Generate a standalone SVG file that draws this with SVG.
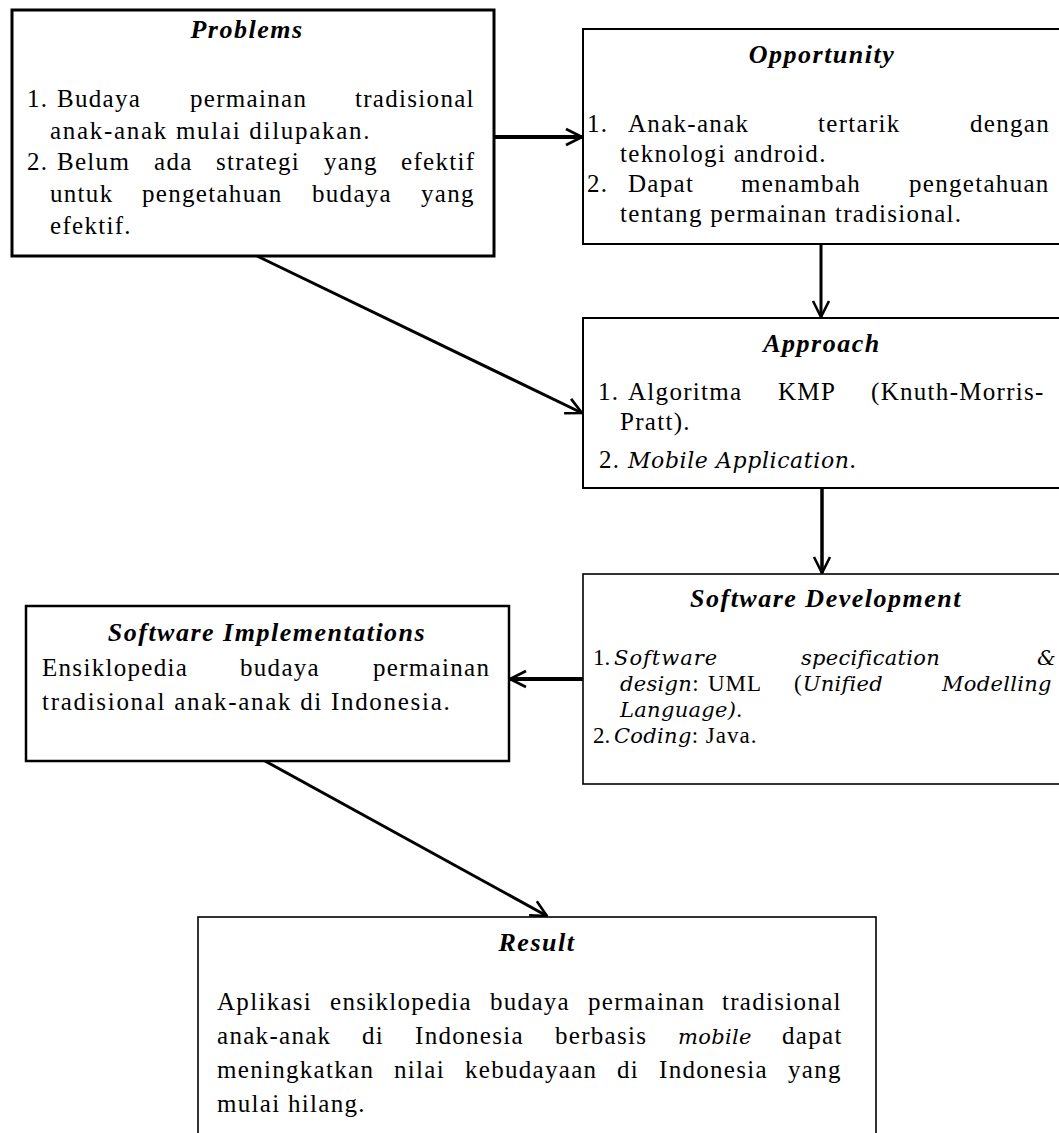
<svg xmlns="http://www.w3.org/2000/svg" width="1059" height="1133" viewBox="0 0 1059 1133">
<defs>
<style>
.box{fill:#fff;stroke:#000}
.t{font-family:"Liberation Serif","Times New Roman",serif;font-size:25px;letter-spacing:1.3px;fill:#000}
.sd{font-size:23px;letter-spacing:1px}
.h{font-family:"Liberation Serif","Times New Roman",serif;font-weight:bold;font-style:italic;font-size:26px;letter-spacing:1.5px;text-anchor:middle;fill:#000}
.i{font-family:"DejaVu Serif",serif;font-style:italic;font-size:21px;letter-spacing:0.3px}
.c{fill:none;stroke:#000}
</style>
<marker id="arr" viewBox="0 0 20 20" refX="19" refY="10" markerWidth="20" markerHeight="20" orient="auto" markerUnits="userSpaceOnUse">
<path d="M3,2 L19,10 L3,18" fill="none" stroke="#000" stroke-width="2.6"/>
</marker>
</defs>
<rect width="1059" height="1133" fill="#fff"/>

<g id="connectors">
<line class="c" x1="494" y1="137" x2="582" y2="137" stroke-width="4" marker-end="url(#arr)"/>
<line class="c" x1="821" y1="244" x2="821" y2="317" stroke-width="3" marker-end="url(#arr)"/>
<line class="c" x1="257" y1="256" x2="582" y2="413" stroke-width="3" marker-end="url(#arr)"/>
<line class="c" x1="822" y1="488" x2="822" y2="573" stroke-width="3.5" marker-end="url(#arr)"/>
<line class="c" x1="583" y1="679" x2="510" y2="679" stroke-width="4" marker-end="url(#arr)"/>
<line class="c" x1="265" y1="761" x2="547" y2="916" stroke-width="3" marker-end="url(#arr)"/>
</g>

<g id="problems">
<rect class="box" x="12" y="10" width="482" height="246" stroke-width="3"/>
<text class="h" x="247" y="38">Problems</text>
<text class="t" y="107"><tspan x="27">1.</tspan><tspan x="57">Budaya</tspan><tspan x="190">permainan</tspan><tspan x="355">tradisional</tspan></text>
<text class="t" x="50" y="139" style="letter-spacing:1.7px">anak-anak mulai dilupakan.</text>
<text class="t" y="170"><tspan x="27">2.</tspan><tspan x="57">Belum</tspan><tspan x="154">ada</tspan><tspan x="216">strategi</tspan><tspan x="324">yang</tspan><tspan x="401">efektif</tspan></text>
<text class="t" y="202"><tspan x="50">untuk</tspan><tspan x="142">pengetahuan</tspan><tspan x="312">budaya</tspan><tspan x="421">yang</tspan></text>
<text class="t" x="50" y="234">efektif.</text>
</g>

<g id="opportunity">
<rect class="box" x="583" y="29" width="481" height="215" stroke-width="2"/>
<text class="h" x="822" y="63">Opportunity</text>
<text class="t" y="132"><tspan x="587">1.</tspan><tspan x="628">Anak-anak</tspan><tspan x="818">tertarik</tspan><tspan x="970">dengan</tspan></text>
<text class="t" x="620" y="162">teknologi android.</text>
<text class="t" y="192"><tspan x="587">2.</tspan><tspan x="628">Dapat</tspan><tspan x="741">menambah</tspan><tspan x="909">pengetahuan</tspan></text>
<text class="t" x="620" y="222">tentang permainan tradisional.</text>
</g>

<g id="approach">
<rect class="box" x="583" y="318" width="481" height="170" stroke-width="2"/>
<text class="h" x="822" y="352">Approach</text>
<text class="t" y="400"><tspan x="598">1.</tspan><tspan x="628">Algoritma</tspan><tspan x="778">KMP</tspan><tspan x="871">(Knuth-Morris-</tspan></text>
<text class="t" x="620" y="430">Pratt).</text>
<text class="t" y="468"><tspan x="599">2. </tspan><tspan class="i" style="font-size:22px;letter-spacing:0.6px">Mobile Application</tspan><tspan>.</tspan></text>
</g>

<g id="software-development">
<rect class="box" x="583" y="574" width="481" height="210" stroke-width="1.6"/>
<text class="h" x="826" y="607">Software Development</text>
<text class="t sd" y="665"><tspan x="593" style="letter-spacing:0">1.</tspan><tspan x="614" class="i" style="letter-spacing:1px">Software</tspan><tspan x="801" class="i">specification</tspan><tspan x="1037" class="i">&amp;</tspan></text>
<text class="t sd" y="691"><tspan x="620" class="i">design</tspan><tspan>:</tspan><tspan x="708">UML</tspan><tspan x="794">(</tspan><tspan class="i">Unified</tspan><tspan x="942" class="i">Modelling</tspan></text>
<text class="t sd" y="717"><tspan x="620" class="i">Language)</tspan><tspan>.</tspan></text>
<text class="t sd" y="743"><tspan x="593" style="letter-spacing:0">2.</tspan><tspan x="614" class="i">Coding</tspan><tspan>: Java.</tspan></text>
</g>

<g id="software-implementations">
<rect class="box" x="26" y="606" width="483" height="155" stroke-width="2.5"/>
<text class="h" x="267" y="641">Software Implementations</text>
<text class="t" y="676"><tspan x="42">Ensiklopedia</tspan><tspan x="240">budaya</tspan><tspan x="373">permainan</tspan></text>
<text class="t" x="42" y="710" style="letter-spacing:1.7px">tradisional anak-anak di Indonesia.</text>
</g>

<g id="result">
<rect class="box" x="198" y="917" width="678" height="240" stroke-width="1.6"/>
<text class="h" x="537" y="951">Result</text>
<text class="t" y="1010"><tspan x="217">Aplikasi</tspan><tspan x="330">ensiklopedia</tspan><tspan x="490">budaya</tspan><tspan x="588">permainan</tspan><tspan x="722">tradisional</tspan></text>
<text class="t" y="1044"><tspan x="217">anak-anak</tspan><tspan x="362">di</tspan><tspan x="415">Indonesia</tspan><tspan x="555">berbasis</tspan><tspan x="678" class="i">mobile</tspan><tspan x="782">dapat</tspan></text>
<text class="t" y="1078"><tspan x="217">meningkatkan</tspan><tspan x="394">nilai</tspan><tspan x="465">kebudayaan</tspan><tspan x="617">di</tspan><tspan x="659">Indonesia</tspan><tspan x="788">yang</tspan></text>
<text class="t" x="217" y="1112">mulai hilang.</text>
</g>
</svg>
